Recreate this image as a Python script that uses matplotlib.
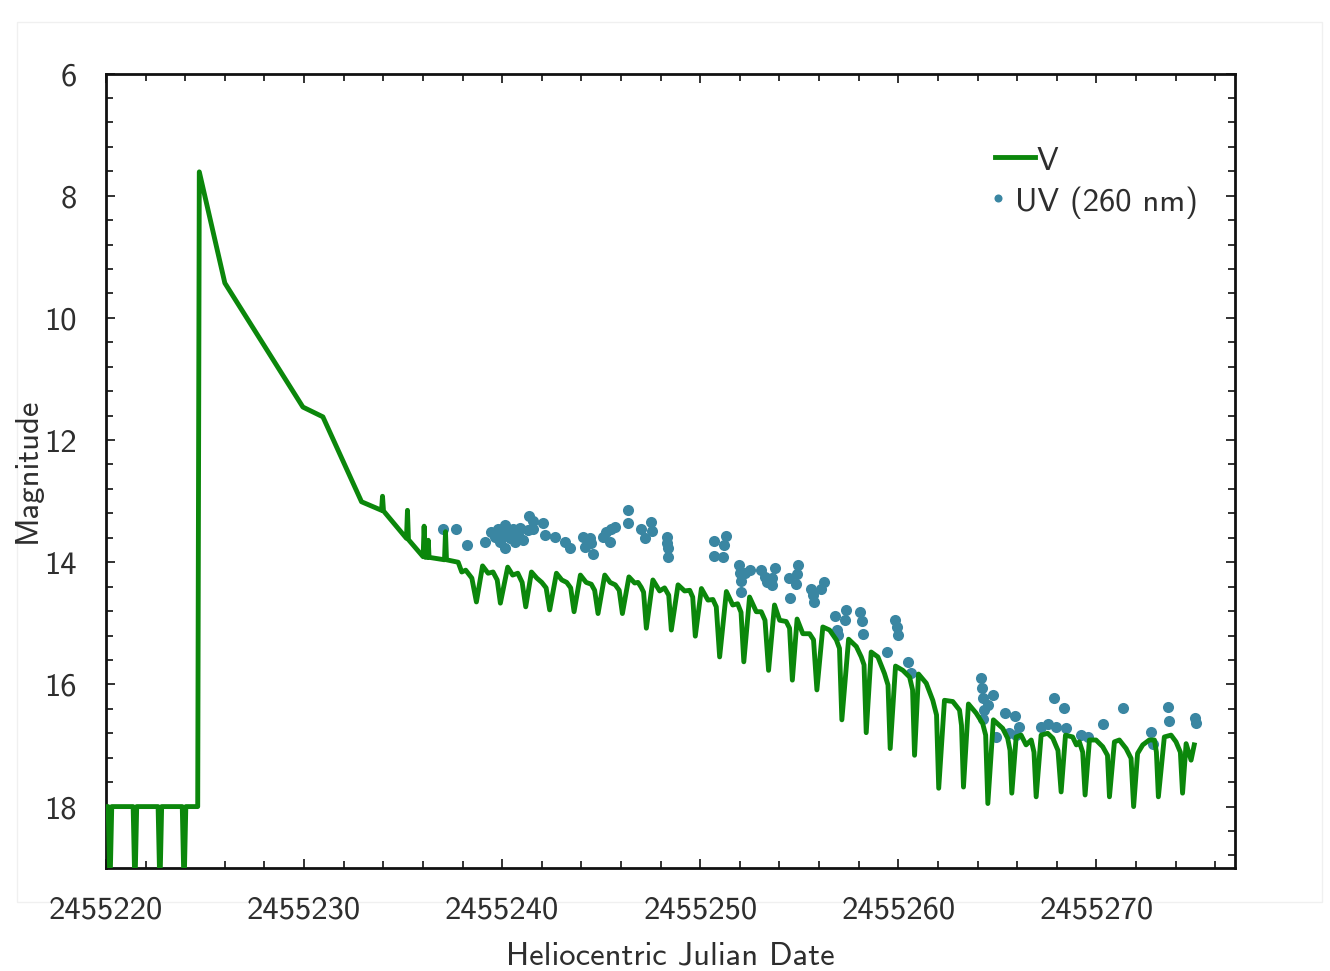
import matplotlib
matplotlib.use("Agg")
import matplotlib.pyplot as plt
from matplotlib.ticker import MultipleLocator, FormatStrFormatter
from matplotlib.patches import Rectangle
from matplotlib.lines import Line2D

# V-band light curve (HJD, magnitude)
hjd_v = [
    2455220.00, 2455220.11, 2455220.20, 2455220.29, 2455221.37, 2455221.46, 2455221.55,
    2455222.63, 2455222.72, 2455222.81, 2455223.85, 2455223.94, 2455224.03, 2455224.63,
    2455224.71, 2455226.00, 2455229.94, 2455230.95, 2455232.90, 2455233.91, 2455233.96,
    2455234.01, 2455235.17, 2455235.22, 2455235.27, 2455236.01, 2455236.06, 2455236.12,
    2455236.24, 2455236.27, 2455236.31, 2455237.09, 2455237.14, 2455237.19, 2455237.78,
    2455237.96, 2455238.16, 2455238.47, 2455238.70,
    2455239.01, 2455239.29, 2455239.54, 2455239.75, 2455239.91,
    2455240.28, 2455240.53, 2455240.79, 2455241.01, 2455241.19,
    2455241.48, 2455241.75, 2455242.00, 2455242.22, 2455242.40,
    2455242.74, 2455243.01, 2455243.26, 2455243.46, 2455243.63,
    2455243.95, 2455244.24, 2455244.50, 2455244.67, 2455244.84,
    2455245.18, 2455245.45, 2455245.71, 2455245.91, 2455246.07,
    2455246.40, 2455246.69, 2455246.86, 2455247.02, 2455247.14, 2455247.28,
    2455247.61, 2455247.95, 2455248.20, 2455248.41, 2455248.54,
    2455248.88, 2455249.21, 2455249.47, 2455249.62, 2455249.75,
    2455250.06, 2455250.39, 2455250.64, 2455250.81, 2455250.98,
    2455251.32, 2455251.64, 2455251.89, 2455252.06, 2455252.20,
    2455252.49, 2455252.83, 2455253.08, 2455253.27, 2455253.45,
    2455253.75, 2455254.01, 2455254.34, 2455254.51, 2455254.65,
    2455254.89, 2455255.18, 2455255.52, 2455255.72, 2455255.89,
    2455256.19, 2455256.53, 2455256.87, 2455257.03, 2455257.15,
    2455257.49, 2455257.88, 2455258.13, 2455258.27, 2455258.38,
    2455258.63, 2455258.97, 2455259.30, 2455259.48, 2455259.59,
    2455259.86, 2455260.23, 2455260.57, 2455260.72, 2455260.82,
    2455261.02, 2455261.41, 2455261.74, 2455261.93, 2455262.04,
    2455262.33, 2455262.75, 2455263.09, 2455263.19, 2455263.29,
    2455263.54, 2455263.93, 2455264.26, 2455264.41, 2455264.52,
    2455264.80, 2455265.27, 2455265.52, 2455265.64, 2455265.73,
    2455265.95, 2455266.20, 2455266.45, 2455266.71, 2455266.85, 2455266.96,
    2455267.21, 2455267.54, 2455267.80, 2455268.06, 2455268.22,
    2455268.44, 2455268.80, 2455268.99, 2455269.14, 2455269.31, 2455269.43,
    2455269.65, 2455269.98, 2455270.32, 2455270.56, 2455270.66,
    2455270.91, 2455271.16, 2455271.50, 2455271.75, 2455271.88,
    2455272.08, 2455272.34, 2455272.67, 2455272.93, 2455273.03, 2455273.13,
    2455273.43, 2455273.77, 2455274.02, 2455274.24, 2455274.35,
    2455274.53, 2455274.78, 2455274.94,
]
mag_v = [
    18.00, 18.00, 19.35, 18.00, 18.00, 19.35, 18.00,
    18.00, 19.35, 18.00, 18.00, 19.35, 18.00, 18.00,
    7.61, 9.43, 11.46, 11.62, 13.01, 13.15, 12.92,
    13.16, 13.61, 13.15, 13.63, 13.91, 13.41, 13.92,
    13.92, 13.64, 13.92, 13.96, 13.50, 13.96, 14.00,
    14.16, 14.13, 14.26, 14.65,
    14.06, 14.18, 14.16, 14.29, 14.67,
    14.08, 14.21, 14.18, 14.33, 14.73,
    14.16, 14.26, 14.33, 14.42, 14.78,
    14.18, 14.29, 14.33, 14.42, 14.81,
    14.21, 14.33, 14.36, 14.46, 14.84,
    14.21, 14.33, 14.37, 14.46, 14.84,
    14.24, 14.34, 14.33, 14.41, 14.49, 15.08,
    14.29, 14.47, 14.42, 14.54, 15.11,
    14.37, 14.47, 14.46, 14.57, 15.21,
    14.43, 14.62, 14.61, 14.73, 15.55,
    14.48, 14.70, 14.68, 14.82, 15.63,
    14.57, 14.81, 14.81, 14.95, 15.77,
    14.70, 14.95, 14.97, 15.08, 15.93,
    14.93, 15.17, 15.17, 15.27, 16.09,
    15.06, 15.11, 15.27, 15.41, 16.58,
    15.26, 15.38, 15.55, 15.68, 16.79,
    15.47, 15.55, 15.82, 16.01, 17.05,
    15.70, 15.77, 15.88, 16.09, 17.16,
    15.83, 15.98, 16.26, 16.50, 17.70,
    16.26, 16.28, 16.42, 16.67, 17.68,
    16.32, 16.47, 16.64, 16.83, 17.95,
    16.58, 16.72, 16.88, 17.08, 17.78,
    16.86, 16.83, 16.99, 16.91, 17.11, 17.84,
    16.83, 16.80, 16.88, 17.08, 17.76,
    16.83, 16.86, 16.99, 16.94, 17.11, 17.81,
    16.91, 16.91, 17.02, 17.16, 17.84,
    16.94, 16.91, 17.05, 17.21, 18.00,
    17.13, 16.99, 16.91, 16.91, 17.11, 17.84,
    16.86, 16.83, 16.94, 17.11, 17.78,
    16.97, 17.24, 16.99,
]

# UV (260 nm) photometry (HJD, magnitude)
hjd_uv = [
    2455237.02, 2455237.69, 2455238.23, 2455239.12, 2455239.46, 2455239.63, 2455239.79,
    2455239.88, 2455240.03, 2455240.13, 2455240.13, 2455240.30, 2455240.38, 2455240.55,
    2455240.64, 2455240.80, 2455240.89, 2455241.05, 2455241.31, 2455241.36, 2455241.54,
    2455241.56, 2455242.06, 2455242.15, 2455242.65, 2455243.16, 2455243.41, 2455244.08,
    2455244.17, 2455244.42, 2455244.51, 2455244.59, 2455245.09, 2455245.26, 2455245.43,
    2455245.51, 2455245.68, 2455246.35, 2455246.35, 2455247.03, 2455247.19, 2455247.53,
    2455247.58, 2455248.32, 2455248.32, 2455248.37, 2455248.37,
    2455250.68, 2455251.28, 2455251.20, 2455250.69, 2455251.15, 2455251.94, 2455251.99,
    2455252.07, 2455252.49, 2455252.24, 2455252.07, 2455253.08, 2455253.25, 2455253.37,
    2455253.64, 2455253.79, 2455253.64, 2455254.48, 2455254.93, 2455254.88, 2455254.81,
    2455254.55, 2455255.61, 2455255.69, 2455255.72, 2455256.11, 2455256.24, 2455256.82,
    2455257.34, 2455257.29, 2455256.92, 2455256.98, 2455258.09, 2455258.18, 2455258.21,
    2455259.84, 2455259.92, 2455259.97, 2455259.42, 2455260.51, 2455260.65,
    2455264.18, 2455264.23, 2455264.26, 2455264.77, 2455264.52, 2455264.35, 2455264.26,
    2455264.94, 2455265.41, 2455265.91, 2455266.08, 2455265.61, 2455265.95, 2455267.21,
    2455267.54, 2455267.88, 2455267.97, 2455268.39, 2455268.47, 2455269.23, 2455269.56,
    2455270.32, 2455271.33, 2455272.76, 2455272.84, 2455273.60, 2455273.65, 2455275.00,
    2455275.03,
]
mag_uv = [
    13.45, 13.45, 13.72, 13.67, 13.50, 13.58, 13.45,
    13.67, 13.57, 13.39, 13.77, 13.50, 13.61, 13.45,
    13.67, 13.53, 13.44, 13.64, 13.47, 13.24, 13.32,
    13.45, 13.36, 13.56, 13.58, 13.67, 13.76, 13.58,
    13.75, 13.61, 13.69, 13.86, 13.58, 13.50, 13.67,
    13.45, 13.42, 13.15, 13.36, 13.45, 13.61, 13.34,
    13.49, 13.58, 13.69, 13.77, 13.91,
    13.65, 13.57, 13.71, 13.89, 13.92, 14.04, 14.18,
    14.30, 14.12, 14.18, 14.48, 14.13, 14.24, 14.32,
    14.26, 14.10, 14.37, 14.25, 14.05, 14.19, 14.36,
    14.58, 14.43, 14.54, 14.65, 14.43, 14.33, 14.88,
    14.78, 14.95, 15.11, 15.19, 14.82, 14.96, 15.17,
    14.94, 15.06, 15.19, 15.47, 15.63, 15.81,
    15.90, 16.06, 16.23, 16.18, 16.34, 16.42, 16.56,
    16.86, 16.47, 16.51, 16.69, 16.80, 16.83, 16.69,
    16.64, 16.23, 16.69, 16.39, 16.72, 16.83, 16.86,
    16.65, 16.39, 16.78, 16.97, 16.37, 16.60, 16.55,
    16.63,
]

x_ticks = [2455220, 2455230, 2455240, 2455250, 2455260, 2455270]
y_ticks = [6, 8, 10, 12, 14, 16, 18]
x_range = (2455220, 2455277)
y_range = (19, 6)

v_color = "#0b870b"
uv_color = "#3a86a2"
text_color = "#2e2e2e"

plt.rcParams["font.family"] = ["cmss10", "DejaVu Sans"]
plt.rcParams["font.size"] = 23.5

fig = plt.figure(figsize=(13.3, 9.71), dpi=100)

# faint outer frame around the plotting region
fig.add_artist(Rectangle((0.0128, 0.0711), 0.9812, 0.9063, transform=fig.transFigure,
                         fill=False, ec="#f0f0f0", lw=1.0, zorder=-10))

ax = fig.add_axes([0.0797, 0.1064, 0.8489, 0.8179])

ax.plot(hjd_uv, mag_uv, "o", ms=8.0, color=uv_color, mec="none", zorder=2)
ax.plot(hjd_v, mag_v, "-", lw=3.5, color=v_color, zorder=3)

ax.set_xlim(*x_range)
ax.set_ylim(*y_range)
ax.set_xticks(x_ticks)
ax.set_yticks(y_ticks)
ax.xaxis.set_minor_locator(MultipleLocator(2))
ax.yaxis.set_minor_locator(MultipleLocator(0.4))
ax.xaxis.set_major_formatter(FormatStrFormatter("%d"))
ax.yaxis.set_major_formatter(FormatStrFormatter("%d"))

for s in ax.spines.values():
    s.set_linewidth(2.0)
    s.set_color("#111111")

ax.tick_params(which="both", direction="in", top=True, right=True,
               width=1.2, color="#111111", labelcolor=text_color, labelsize=23.5)
ax.tick_params(which="major", length=6.5)
ax.tick_params(which="minor", length=5.0)
ax.tick_params(axis="x", which="major", pad=20)
ax.tick_params(axis="y", which="major", pad=21)

ax.set_xlabel("Heliocentric Julian Date", fontsize=23.5, color=text_color)
ax.set_ylabel("Magnitude", fontsize=23.5, color=text_color)
ax.xaxis.set_label_coords(0.5, -0.093)
ax.yaxis.set_label_coords(-0.057, 0.5)

# legend entries
ax.add_line(Line2D([0.7874, 0.8229], [0.8949, 0.8949], transform=ax.transAxes,
                   color=v_color, lw=3.5, clip_on=False))
ax.text(0.8246, 0.8785, "V", transform=ax.transAxes, ha="left", va="baseline",
        fontsize=23.5, color=text_color)
ax.add_line(Line2D([0.7901], [0.8432], transform=ax.transAxes, ls="none", marker="o",
                   ms=5.8, color=uv_color, mec="none", clip_on=False))
ax.text(0.8051, 0.8272, "UV (260 nm)", transform=ax.transAxes, ha="left", va="baseline",
        fontsize=23.5, color=text_color)

fig.savefig("out.png", dpi=100)
